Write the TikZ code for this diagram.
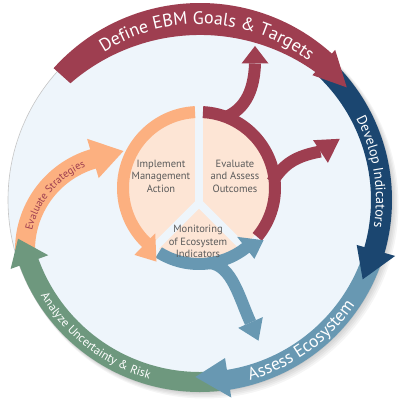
\documentclass[tikz,border=0pt]{standalone}
\usepackage{fontspec}
\setmainfont{PT Sans}
\usetikzlibrary{decorations.text}
\definecolor{cred}{RGB}{158,62,80}
\definecolor{cnavy}{RGB}{27,70,112}
\definecolor{csteel}{RGB}{104,152,178}
\definecolor{cgreen}{RGB}{110,152,126}
\definecolor{corange}{RGB}{252,176,128}
\definecolor{cpeach}{RGB}{253,229,213}
\definecolor{cbg}{RGB}{238,245,251}
\definecolor{ctext}{RGB}{90,90,90}
\tikzset{
  innerlabel/.style={align=center, text=ctext, font=\fontsize{10.5}{12.5}\selectfont, inner sep=0pt},
  branchred/.style={draw=cred, line width=12},
  branchblue/.style={draw=csteel, line width=12},
  gapline/.style={draw=cbg, line width=8}
}
\begin{document}
\begin{tikzpicture}[x=1pt,y=1pt]
\useasboundingbox (0,0) rectangle (400,400);
\fill[white] (0,0) rectangle (400,400);
% shadow
\foreach \i in {1,...,5}{\fill[black, opacity=0.04] (200+\i*0.9,200-\i*0.9) circle (191+\i*0.6);}
% disk
\fill[cbg, draw=gray!45, line width=0.6] (200,200) circle (192);

% ===== outer ring =====
\begin{scope}[shift={(120,150)}]
\fill[corange] (182:105) arc[start angle=182,end angle=106.5,radius=105] -- (106.5:116) -- (88:99) -- (106.5:75) -- (106.5:85) arc[start angle=106.5,end angle=182,radius=85] -- cycle;
\path[decorate, decoration={text along path, text align=center, text={|\color{cred}\fontsize{10.5}{10.5}\selectfont|Evaluate Strategies}}] (195:90) arc[start angle=195,end angle=85,radius=90];
\end{scope}

\begin{scope}[shift={(200,200)}]
\fill[cgreen] (-84:192) arc[start angle=-84,end angle=-160,radius=192] -- (-160:201.5) -- (-168:186) -- (-160:161.5) -- (-160:172) arc[start angle=-160,end angle=-84,radius=172] -- cycle;
\fill[csteel] (-20:192) arc[start angle=-20,end angle=-81,radius=192] -- (-81:200) -- (-91.5:177) -- (-81:160) -- (-81:172) arc[start angle=-81,end angle=-20,radius=172] -- cycle;
\fill[cnavy] (46:192) arc[start angle=46,end angle=-16,radius=192] -- (-16:203) -- (-26:181) -- (-16:163) -- (-16:171) arc[start angle=-16,end angle=46,radius=171] -- cycle;
\fill[cred] (138:197) arc[start angle=138,end angle=48,radius=197] -- (48:202) -- (37.5:185) -- (48:168) -- (48:172.3) arc[start angle=54.4,end angle=130.9,radius=198] -- cycle;

\path[decorate, decoration={text along path, text align=center, text={|\color{white}\fontsize{18}{18}\selectfont|Define EBM Goals {\&} Targets}}] (160:176) arc[start angle=160,end angle=15,radius=176];
\path[decorate, decoration={text along path, text align=center, text={|\color{white}\fontsize{14}{14}\selectfont|Develop Indicators}}] (60:176) arc[start angle=60,end angle=-41.4,radius=176];
\path[decorate, decoration={text along path, text align=center, text={|\color{white}\fontsize{17.5}{17.5}\selectfont|Assess Ecosystem}}] (-110:187) arc[start angle=-110,end angle=1.4,radius=187];
\path[decorate, decoration={text along path, text align=center, text={|\color{white}\fontsize{12}{12}\selectfont|Analyze Uncertainty {\&} Risk}}] (180:186) arc[start angle=180,end angle=285.2,radius=186];
\end{scope}

% ===== inner circle =====
\fill[cpeach] (199,212) circle (73);
\draw[gapline] (199,192) -- (199,292);
\draw[gapline, line join=miter] (150,148) -- (199,197) -- (248,148);

\begin{scope}[shift={(199,212)}]
\fill[cred] (87:82) arc[start angle=87,end angle=-40,radius=82] -- (-40:70) arc[start angle=-40,end angle=87,radius=70] -- cycle;
\end{scope}
% red branches
\draw[branchred] (226,283) .. controls (242,290) and (254,305) .. (255,336.5);
\fill[cred] (241.5,336.5) -- (255,354) -- (268.5,336.5) -- cycle;
\draw[branchred] (272,218) .. controls (282,232) and (290,243) .. (320.5,248.5);
\fill[cred] (313.1,259.8) -- (339.8,261.2) -- (327.9,237.2) -- cycle;

\begin{scope}[shift={(199,212)}]
\fill[csteel] (-122:82) arc[start angle=-122,end angle=-52,radius=82] -- (-52:90) -- (-39:83) -- (-52:62) -- (-52:70) arc[start angle=-52,end angle=-122,radius=70] -- cycle;
\end{scope}
% blue branch
\draw[branchblue] (210,137) .. controls (232,134) and (239,103) .. (250.5,77.5);
\fill[csteel] (262.8,82.9) -- (258.5,59.3) -- (238.2,72.1) -- cycle;

\begin{scope}[shift={(199,212)}]
\fill[corange] (93:82) arc[start angle=93,end angle=226,radius=82] -- (226:93) -- (240:85) -- (226:63) -- (226:70) arc[start angle=226,end angle=93,radius=70] -- cycle;
\end{scope}

\node[innerlabel] (impl) at (161,224) {Implement\\Management\\Action};
\node[innerlabel] (eval) at (235,224) {Evaluate\\and Assess\\Outcomes};
\node[innerlabel] (mon) at (198,158.5) {Monitoring\\of Ecosystem\\Indicators};
\end{tikzpicture}
\end{document}
